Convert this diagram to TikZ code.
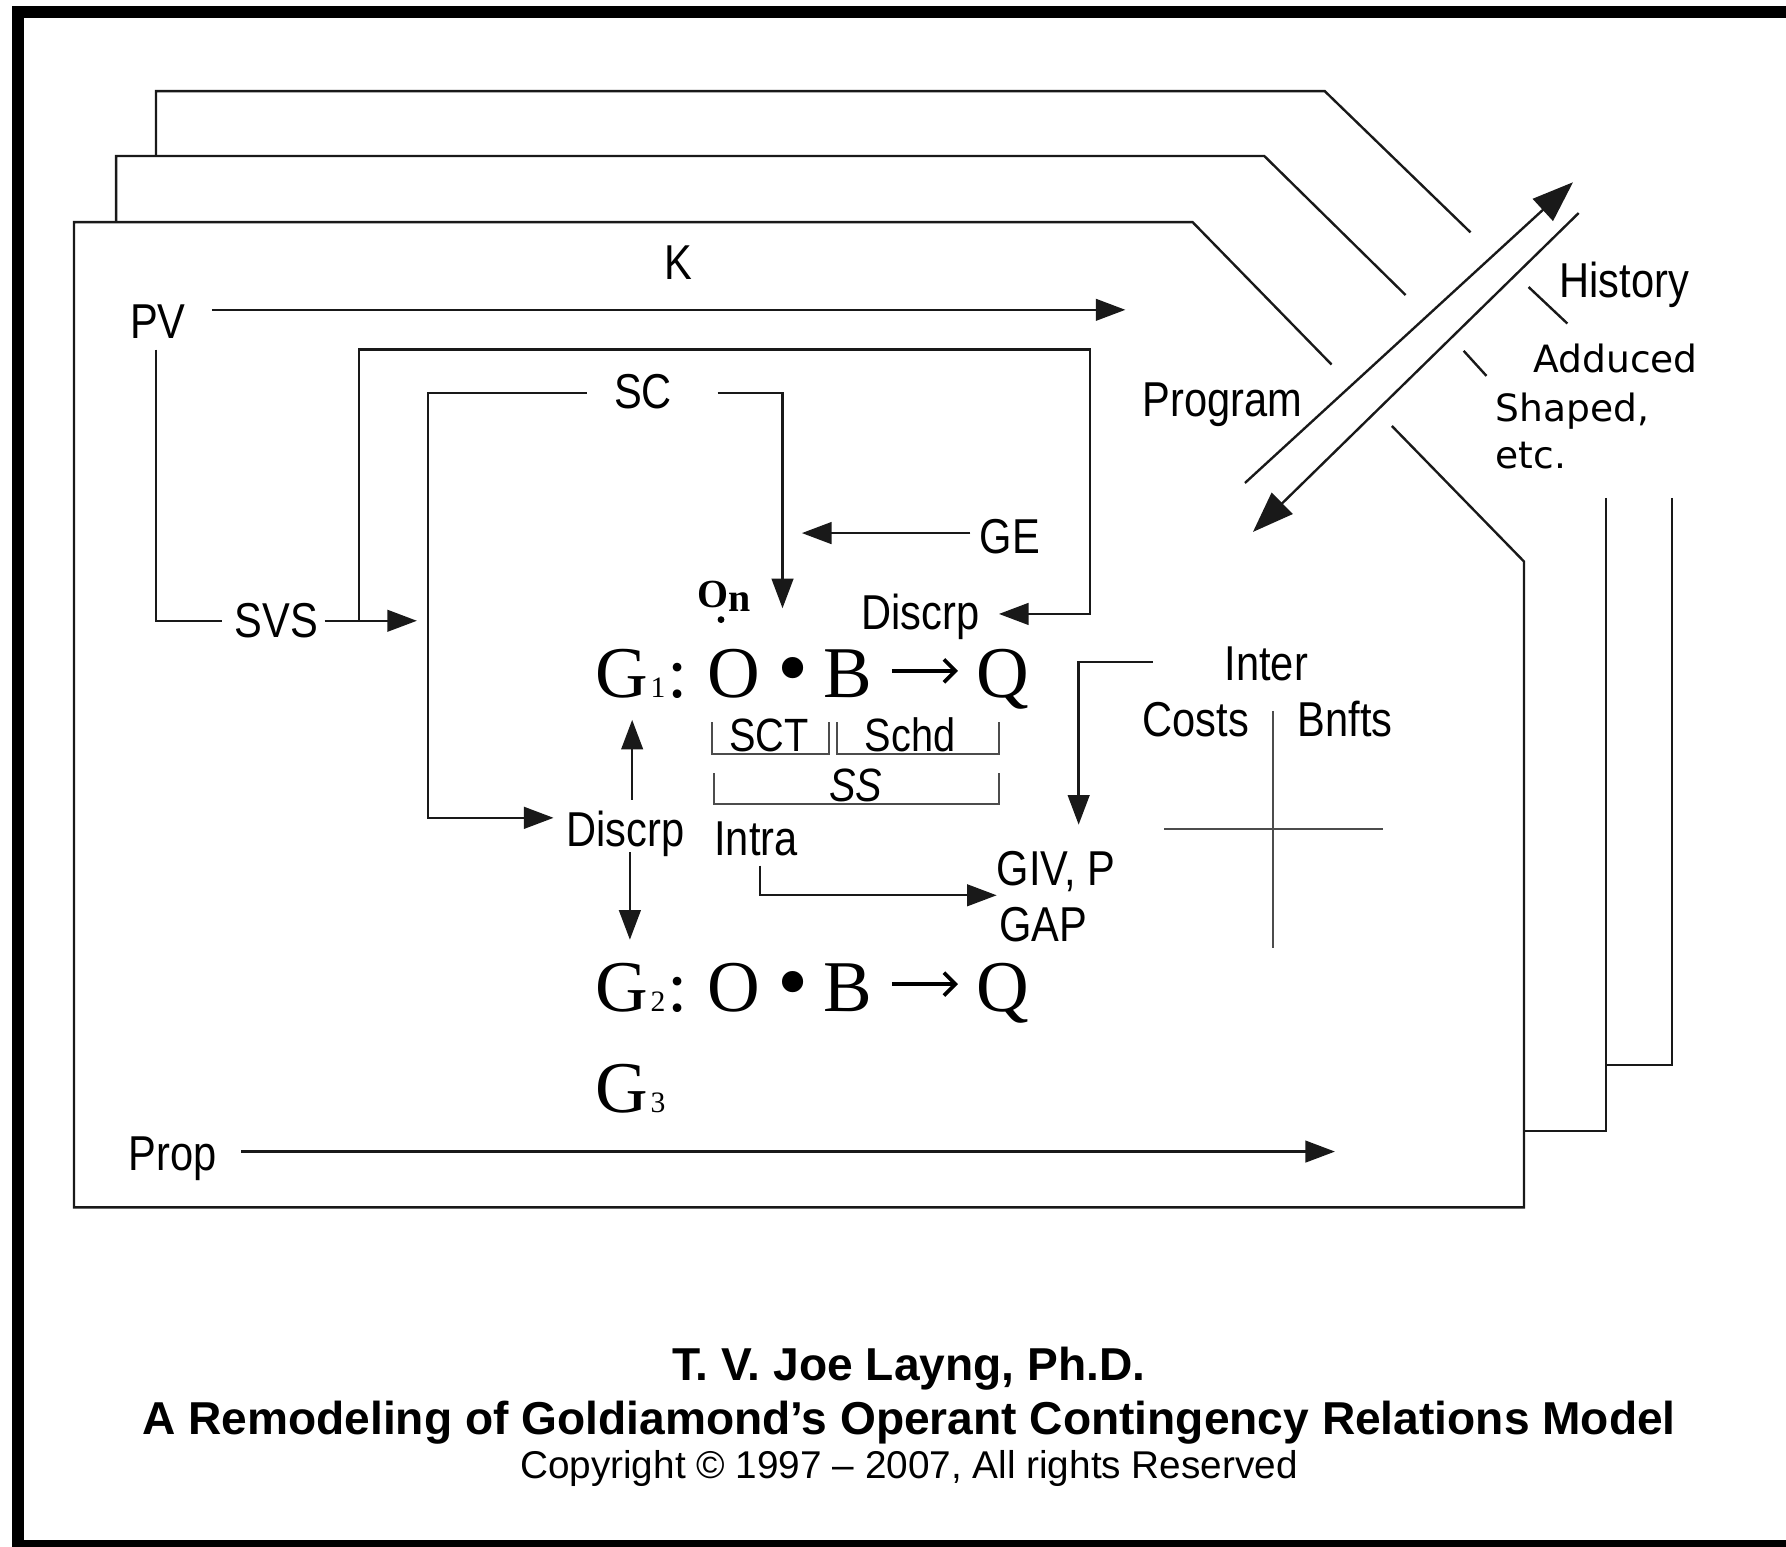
\documentclass[tikz,border=0pt]{standalone}
\usepackage{fontspec}
\setmainfont{Liberation Sans}
\newfontfamily\lab[FakeStretch=0.85]{Liberation Sans}
\newfontfamily\ser{Liberation Serif}
\newfontfamily\dvs{DejaVu Sans}
\usetikzlibrary{arrows.meta}
\begin{document}
\begin{tikzpicture}[x=1pt,y=-1pt,
  ln/.style={line width=2.1pt, draw=black!90},
  thin/.style={line width=1.8pt, draw=black!70},
  arr/.style={-{Triangle[length=26pt,width=19pt]}},
  bigarr/.style={-{Triangle[length=36pt,width=26pt]}},
  formarr/.style={line width=3.2pt, -{Straight Barb[length=10pt,width=20pt]}},
  lbl/.style={inner sep=0pt, anchor=base west, font=\lab\fontsize{43}{50}\selectfont},
  sml/.style={inner sep=0pt, anchor=base west, font=\lab\fontsize{41}{48}\selectfont},
  dv/.style={inner sep=0pt, anchor=base west, font=\dvs\fontsize{33}{40}\selectfont},
  big/.style={inner sep=0pt, anchor=base west, font=\ser\fontsize{64}{72}\selectfont},
  bul/.style={inner sep=0pt, anchor=base, font=\ser\fontsize{78}{80}\selectfont},
  sub/.style={inner sep=0pt, anchor=base west, font=\ser\fontsize{26}{30}\selectfont},
  onf/.style={inner sep=0pt, anchor=base west, font=\ser\bfseries\fontsize{35}{40}\selectfont},
  ttl/.style={inner sep=0pt, anchor=base, font=\bfseries\fontsize{40.5}{48}\selectfont},
  cpy/.style={inner sep=0pt, anchor=base, font=\fontsize{34}{40}\selectfont}
]
\useasboundingbox (0,0) rectangle (1568,1358);
\fill[white] (0,0) rectangle (1568,1358);
% outer frame
\draw[line width=10.5pt] (16,10.5) rectangle (1620,1357);

% stacked pages
\draw[ln] (137,137) -- (137,80) -- (1163,80) -- (1291,204);
\draw[ln] (1342,252) -- (1376,284);
\draw[ln] (1468,437) -- (1468,935) -- (1410,935);
\draw[ln] (102,195) -- (102,137) -- (1110,137) -- (1234,259);
\draw[ln] (1285,308) -- (1305,330);
\draw[ln] (1410,437) -- (1410,993) -- (1338,993);
\draw[ln] (1169,320) -- (1047,195) -- (65,195) -- (65,1060) -- (1338,1060) -- (1338,493) -- (1222,374);

% double arrow
\coordinate (a1) at (1093,424); \coordinate (a2) at (1381,160);
\coordinate (b1) at (1386,187); \coordinate (b2) at (1100,467);
\draw[ln,bigarr] (a1) -- (a2);
\draw[ln,bigarr] (b1) -- (b2);

% labels
\node[lbl] (K) at (583,245) {K};
\node[lbl] (PV) at (114,297) {PV};
\node[lbl] (SVS) at (206,560) {SVS};
\node[lbl] (SC) at (539,359) {SC};
\node[lbl] (GE) at (860,486) {GE};
\node[lbl] (D1) at (756,553) {Discrp};
\node[lbl] (D2) at (497,743) {Discrp};
\node[lbl] (Intra) at (627,751) {Intra};
\node[lbl] (GIV) at (875,777) {GIV, P};
\node[lbl] (GAP) at (877,827) {GAP};
\node[lbl] (Prop) at (113,1028) {Prop};
\node[lbl] (Inter) at (1075,597) {Inter};
\node[lbl] (Costs) at (1003,647) {Costs};
\node[lbl] (Bnfts) at (1139,647) {Bnfts};
\node[lbl] (Prog) at (1003,366) {Program};
\node[lbl] (Hist) at (1369,261) {History};
\node[dv] (Add) at (1346,327) {Adduced};
\node[dv] (Shp) at (1313,370) {Shaped,};
\node[dv] (etc) at (1313,411) {etc.};
\node[sml] (SCT) at (640,660) {SCT};
\node[sml] (Schd) at (759,660) {Schd};
\node[sml] (SS) at (728,704) {\itshape SS};

% formula G1
\node[big] (G1) at (522.5,612) {G};
\node[sub] (G1s) at (571,612) {1};
\node[big] (C1) at (586,612) {:};
\node[big] (O1) at (621,612) {O};
\node[bul] (P1) at (696,612) {•};
\node[big] (B1) at (723,612) {B};
\node[big] (Q1) at (857,612) {Q};
\coordinate (r1a) at (783,589); \coordinate (r1b) at (841,589);
\draw[formarr] (r1a) -- (r1b);
% O_n
\node[onf] (On) at (612,533) {O};
\node[onf] (Onn) at (639,537) {n};
\fill (633,544) circle (3);
% formula G2
\node[big] (G2) at (522.5,888) {G};
\node[sub] (G2s) at (571,888) {2};
\node[big] (C2) at (586,888) {:};
\node[big] (O2) at (621,888) {O};
\node[bul] (P2) at (696,888) {•};
\node[big] (B2) at (723,888) {B};
\node[big] (Q2) at (857,888) {Q};
\coordinate (r2a) at (783,864); \coordinate (r2b) at (841,864);
\draw[formarr] (r2a) -- (r2b);
% G3
\node[big] (G3) at (522.5,977) {G};
\node[sub] (G3s) at (571,977) {3};

% brackets
\draw[thin] (625,634) -- (625,662) -- (728,662) -- (728,634);
\draw[thin] (735,634) -- (735,662) -- (877,662) -- (877,634);
\draw[thin] (627,679) -- (627,706) -- (877,706) -- (877,679);

% connector coordinates
\coordinate (pvA) at (186,272); \coordinate (pvB) at (988,272);
\coordinate (pvC) at (137,307); \coordinate (pvD) at (137,545); \coordinate (pvE) at (195,545);
\coordinate (svA) at (285,545); \coordinate (svB) at (366,545);
\coordinate (scA) at (315,545); \coordinate (scB) at (315,307); \coordinate (scC) at (957,307);
\coordinate (scD) at (957,539); \coordinate (scE) at (877,539);
\coordinate (inA) at (515,345); \coordinate (inB) at (376,345); \coordinate (inC) at (376,718); \coordinate (inD) at (486,718);
\coordinate (inE) at (630,345); \coordinate (inF) at (687,345); \coordinate (inG) at (687,534);
\coordinate (geA) at (852,468); \coordinate (geB) at (704,468);
\coordinate (upA) at (555,702); \coordinate (upB) at (555,632);
\coordinate (dnA) at (553,748); \coordinate (dnB) at (553,825);
\coordinate (itA) at (667,760); \coordinate (itB) at (667,786); \coordinate (itC) at (875,786);
\coordinate (ieA) at (1012,581); \coordinate (ieB) at (947,581); \coordinate (ieC) at (947,724);
\coordinate (prA) at (212,1011); \coordinate (prB) at (1172,1011);
\coordinate (crA) at (1118,624); \coordinate (crB) at (1118,832);
\coordinate (crC) at (1022,728); \coordinate (crD) at (1214,728);

\draw[ln,arr] (pvA) -- (pvB);
\draw[ln] (pvC) -- (pvD) -- (pvE);
\draw[ln,arr] (svA) -- (svB);
\draw[ln,arr] (scA) -- (scB) -- (scC) -- (scD) -- (scE);
\draw[ln,arr] (inA) -- (inB) -- (inC) -- (inD);
\draw[ln,arr] (inE) -- (inF) -- (inG);
\draw[ln,arr] (geA) -- (geB);
\draw[ln,arr] (upA) -- (upB);
\draw[ln,arr] (dnA) -- (dnB);
\draw[ln,arr] (itA) -- (itB) -- (itC);
\draw[ln,arr] (ieA) -- (ieB) -- (ieC);
\draw[ln,arr] (prA) -- (prB);
\draw[thin] (crA) -- (crB);
\draw[thin] (crC) -- (crD);

% title
\node[ttl] (t1) at (798,1212) {T. V. Joe Layng, Ph.D.};
\node[ttl] (t2) at (798,1259) {A Remodeling of Goldiamond’s Operant Contingency Relations Model};
\node[cpy] (t3) at (798,1298) {Copyright © 1997 – 2007, All rights Reserved};
\end{tikzpicture}
\end{document}
